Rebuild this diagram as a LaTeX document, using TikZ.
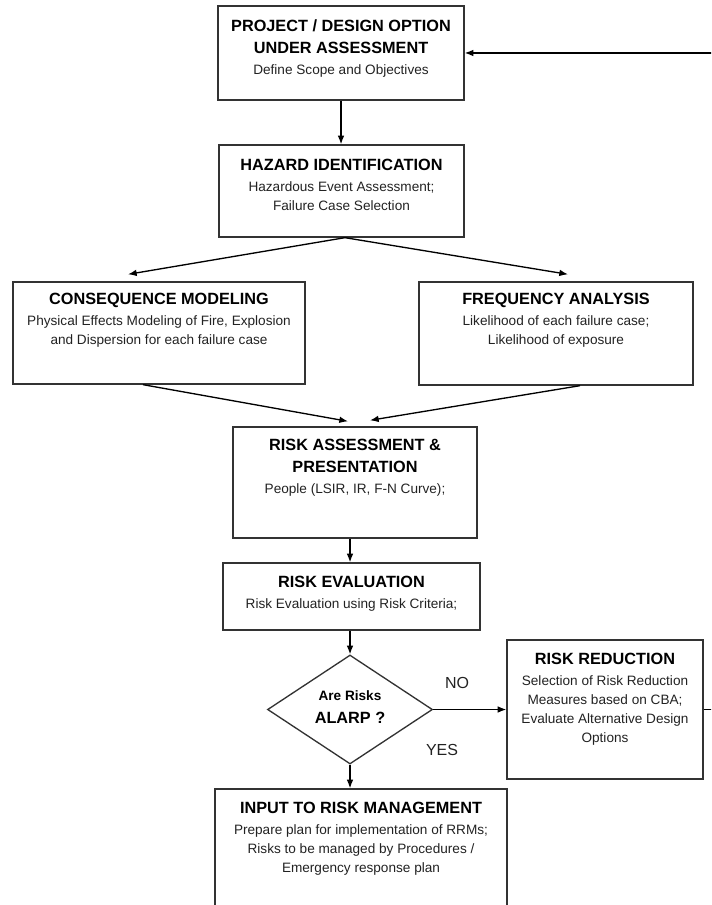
\documentclass[tikz,border=0pt]{standalone}
\usepackage{fontspec}
\setmainfont{Liberation Sans}
\usetikzlibrary{shapes.geometric,arrows.meta}
\definecolor{edgegray}{RGB}{51, 51, 51}
\definecolor{inkgray}{RGB}{34, 34, 34}
\newcommand{\ttl}{\color{black}\bfseries\fontsize{12.2}{14.25}\selectfont}

\begin{document}
\begin{tikzpicture}[x=0.75pt, y=-0.75pt,
    box/.style={draw=edgegray, line width=1pt, rectangle, inner sep=0pt},
    txt/.style={anchor=north, align=center, inner sep=0pt, text=inkgray, font=\fontsize{10.2}{14.25}\selectfont},
    arr/.style={draw=black, line width=1pt, -{Latex[length=6.5pt, width=5pt]}}]
    \clip (0,0) rectangle (711,905);

    % boxes
    \node[box, minimum width=184.5pt,  minimum height=70.5pt]  (top)   at (341,53)      {};
    \node[box, minimum width=183.75pt, minimum height=69pt]    (haz)   at (341.5,191)   {};
    \node[box, minimum width=219pt,    minimum height=76.5pt]  (cons)  at (159,333)     {};
    \node[box, minimum width=205.5pt,  minimum height=77.25pt] (freq)  at (556,333.5)   {};
    \node[box, minimum width=183pt,    minimum height=83.25pt] (ra)    at (355,482.5)   {};
    \node[box, minimum width=192.75pt, minimum height=50.25pt] (reval) at (351.5,596.5) {};
    \node[box, diamond, aspect=1.5, minimum width=123.75pt, minimum height=81.75pt] (dia) at (350,709.5) {};
    \node[box, minimum width=147pt,    minimum height=104.25pt] (rr)   at (605,709.5)   {};
    \node[box, minimum width=219pt,    minimum height=94.5pt]  (inp)   at (361,852)     {};

    % texts
    \node[txt] (top-t)   at (341,19.2)   {\ttl PROJECT / DESIGN OPTION\\[2.25pt]\ttl UNDER ASSESSMENT\\[1.5pt]Define Scope and Objectives};
    \node[txt] (haz-t)   at (341.5,159.2) {\ttl HAZARD IDENTIFICATION\\[1.5pt]Hazardous Event Assessment;\\Failure Case Selection};
    \node[txt] (cons-t)  at (159,293.2)  {\ttl CONSEQUENCE MODELING\\[1.5pt]Physical Effects Modeling of Fire, Explosion\\and Dispersion for each failure case};
    \node[txt] (freq-t)  at (556,293.2)  {\ttl FREQUENCY ANALYSIS\\[1.5pt]Likelihood of each failure case;\\Likelihood of exposure};
    \node[txt] (ra-t)    at (355,439.2)  {\ttl RISK ASSESSMENT \&\\[2.25pt]\ttl PRESENTATION\\[1.5pt]People (LSIR, IR, F-N Curve);};
    \node[txt] (reval-t) at (351.5,576.2) {\ttl RISK EVALUATION\\[1.5pt]Risk Evaluation using Risk Criteria;};
    \node[txt] (dia-t)   at (350,690)    {\color{black}\bfseries Are Risks\\[3pt]\ttl ALARP ?};
    \node[txt] (rr-t)    at (605,653.2)  {\ttl RISK REDUCTION\\[1.5pt]Selection of Risk Reduction\\Measures based on CBA;\\Evaluate Alternative Design\\Options};
    \node[txt] (inp-t)   at (361,802.2)  {\ttl INPUT TO RISK MANAGEMENT\\[1.5pt]Prepare plan for implementation of RRMs;\\Risks to be managed by Procedures /\\Emergency response plan};
    \node[text=inkgray, font=\fontsize{12}{14}\selectfont] (no)  at (457,683) {NO};
    \node[text=inkgray, font=\fontsize{12}{14}\selectfont] (yes) at (442,750) {YES};

    % connectors
    \coordinate (loop) at (730,0);
    \draw[arr] (top.south) -- (top.south |- haz.north);
    \draw[arr] ([xshift=2.6pt]haz.south) -- ([xshift=-23.25pt, yshift=5.25pt]cons.north);
    \draw[arr] ([xshift=2.6pt]haz.south) -- ([xshift=9pt, yshift=5.25pt]freq.north);
    \draw[arr] ([xshift=-12pt]cons.south) -- ([xshift=-5.25pt, yshift=3.75pt]ra.north);
    \draw[arr] ([xshift=18pt]freq.south) -- ([xshift=11.25pt, yshift=4.5pt]ra.north);
    \draw[arr] (ra.south -| dia.north) -- (reval.north -| dia.north);
    \draw[arr] (reval.south -| dia.north) -- (dia.north);
    \draw[arr] (dia.south) -- (inp.north -| dia.south);
    \draw[arr] (dia.east) -- (rr.west |- dia.east);
    \draw[arr] (rr.east) -- (loop |- rr.east) -- (loop |- top.east) -- (top.east);
\end{tikzpicture}
\end{document}
